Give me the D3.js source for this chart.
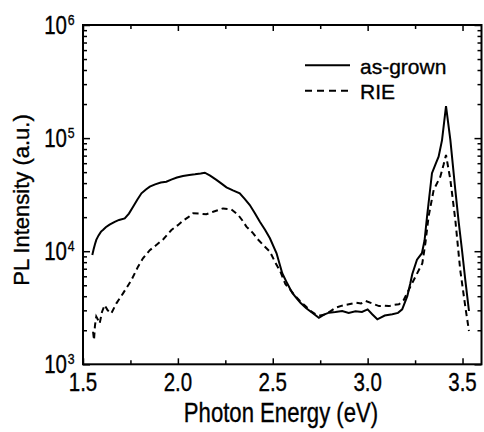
<!DOCTYPE html>
<html>
<head>
<meta charset="utf-8">
<script src="https://cdn.jsdelivr.net/npm/d3@7"></script>
<style>
  body { margin: 0; background: #fff; }
  .tick line { stroke: #000; stroke-width: 1.5; }
  .domain { display: none; }
  text { font-family: 'Liberation Sans', Arial, sans-serif; fill: #000; stroke: #000; stroke-width: 0.35px; }
</style>
</head>
<body>
<div id="chart"></div>
<script>
// PL spectra (photon energy in eV, intensity in a.u.)
const asGrownE = [1.549, 1.556, 1.563, 1.570, 1.582, 1.595, 1.605, 1.620, 1.640, 1.667, 1.690, 1.720, 1.742, 1.764, 1.786, 1.808, 1.830, 1.852, 1.880, 1.910, 1.939, 1.965, 1.995, 2.027, 2.060, 2.090, 2.120, 2.142, 2.170, 2.203, 2.230, 2.256, 2.290, 2.326, 2.352, 2.379, 2.405, 2.432, 2.460, 2.485, 2.520, 2.550, 2.576, 2.602, 2.625, 2.646, 2.675, 2.708, 2.743, 2.770, 2.796, 2.830, 2.866, 2.900, 2.936, 2.970, 3.000, 3.024, 3.051, 3.090, 3.130, 3.160, 3.182, 3.209, 3.225, 3.235, 3.260, 3.286, 3.300, 3.313, 3.339, 3.360, 3.374, 3.392, 3.413, 3.436, 3.462, 3.480, 3.497, 3.515, 3.534];
const asGrownI = [9250, 10400, 11500, 12600, 13800, 14900, 15400, 16300, 17200, 18200, 18900, 19500, 21500, 24700, 28500, 32500, 35000, 37200, 39000, 40500, 41100, 43000, 44800, 46200, 47200, 47800, 48600, 49400, 46500, 42700, 39600, 36700, 34500, 32500, 29000, 25600, 21800, 18200, 15400, 13000, 9580, 6380, 5200, 4300, 3850, 3500, 3150, 2860, 2580, 2750, 2860, 2900, 2960, 2850, 2950, 2900, 3060, 2770, 2500, 2700, 2770, 2850, 3060, 4000, 5200, 6250, 8400, 9600, 12500, 20200, 48900, 60000, 68600, 96000, 192000, 96000, 34800, 18000, 10300, 5500, 2960];

const rieE = [1.553, 1.558, 1.563, 1.570, 1.580, 1.588, 1.600, 1.614, 1.630, 1.649, 1.676, 1.711, 1.735, 1.755, 1.790, 1.816, 1.852, 1.885, 1.922, 1.966, 2.000, 2.027, 2.055, 2.080, 2.115, 2.150, 2.186, 2.210, 2.238, 2.282, 2.318, 2.340, 2.361, 2.397, 2.420, 2.444, 2.485, 2.514, 2.540, 2.567, 2.595, 2.620, 2.645, 2.672, 2.700, 2.725, 2.750, 2.778, 2.805, 2.831, 2.865, 2.901, 2.940, 2.965, 2.989, 3.025, 3.060, 3.090, 3.112, 3.140, 3.165, 3.190, 3.218, 3.253, 3.288, 3.305, 3.321, 3.348, 3.383, 3.400, 3.413, 3.436, 3.462, 3.488, 3.515, 3.534];
const rieI = [1940, 1640, 2200, 2640, 2450, 2300, 2900, 3340, 3000, 2820, 3460, 4240, 4900, 5560, 7300, 8650, 10200, 11300, 12700, 15400, 17000, 18600, 20000, 21600, 21500, 21200, 22300, 23000, 23900, 23400, 20900, 18700, 16500, 14400, 12800, 11600, 9900, 7900, 6600, 5100, 4500, 4000, 3600, 3270, 2950, 2770, 2700, 2770, 2950, 3160, 3300, 3390, 3500, 3450, 3630, 3450, 3270, 3300, 3270, 3350, 3390, 3700, 4600, 6000, 7800, 12000, 20200, 34800, 45600, 58000, 71000, 42700, 18900, 6800, 3200, 1970];

const xMajor = [1.5, 2.0, 2.5, 3.0, 3.5];
const xMinor = [1.75, 2.25, 2.75, 3.25];
const yMajor = [1e3, 1e4, 1e5, 1e6];
const seriesNames = ["as-grown", "RIE"];

const width = 484;
const height = 432;
const plotL = 83, plotR = 481.5, plotT = 25, plotB = 364.3;
const squeeze = 0.82; // the scanned lettering is tall and narrow

const svg = d3.select("#chart")
  .append("svg")
  .attr("width", width)
  .attr("height", height);

const x = d3.scaleLinear().domain([1.5, 3.6]).range([plotL, plotR]);
const y = d3.scaleLog().domain([1e3, 1e6]).range([plotB, plotT]);

const yMinor = y.ticks().filter(v => !yMajor.includes(v));

// ticks point inward on all four sides
function addAxis(axis, tx, ty) {
  svg.append("g").attr("transform", `translate(${tx},${ty})`).call(axis);
}
addAxis(d3.axisBottom(x).tickValues(xMajor).tickSize(-6).tickFormat(""), 0, plotB);
addAxis(d3.axisBottom(x).tickValues(xMinor).tickSize(-4).tickFormat(""), 0, plotB);
addAxis(d3.axisTop(x).tickValues(xMajor).tickSize(-6).tickFormat(""), 0, plotT);
addAxis(d3.axisTop(x).tickValues(xMinor).tickSize(-4).tickFormat(""), 0, plotT);
addAxis(d3.axisLeft(y).tickValues(yMajor).tickSize(-7).tickFormat(""), plotL, 0);
addAxis(d3.axisLeft(y).tickValues(yMinor).tickSize(-4).tickFormat(""), plotL, 0);
addAxis(d3.axisRight(y).tickValues(yMajor).tickSize(-7).tickFormat(""), plotR, 0);
addAxis(d3.axisRight(y).tickValues(yMinor).tickSize(-4).tickFormat(""), plotR, 0);

// frame
svg.append("rect")
  .attr("x", plotL).attr("y", plotT)
  .attr("width", plotR - plotL).attr("height", plotB - plotT)
  .attr("fill", "none").attr("stroke", "#000").attr("stroke-width", 2);

// x tick labels
svg.selectAll(".xlab")
  .data(xMajor)
  .enter().append("text")
  .attr("transform", d => `translate(${x(d)},${plotB + 27}) scale(${squeeze},1)`)
  .attr("text-anchor", "middle")
  .style("font-size", "25px")
  .text(d => d.toFixed(1));

// y tick labels 10^n
const ylab = svg.selectAll(".ylab")
  .data(yMajor)
  .enter().append("text")
  .attr("transform", d => `translate(67,${y(d) + 9}) scale(${squeeze},1)`)
  .style("font-size", "25px");
ylab.append("tspan")
  .attr("x", 0).attr("text-anchor", "end")
  .text("10");
ylab.append("tspan")
  .attr("x", 1).attr("dy", -9)
  .style("font-size", "15px")
  .text(d => Math.round(Math.log10(d)));

// axis titles
svg.append("text")
  .attr("transform", `translate(281,422) scale(${squeeze},1)`)
  .attr("text-anchor", "middle")
  .style("font-size", "27px")
  .text("Photon Energy (eV)");

svg.append("text")
  .attr("transform", "translate(28.5,200) rotate(-90)")
  .attr("text-anchor", "middle")
  .style("font-size", "22px")
  .text("PL Intensity (a.u.)");

// curves
const line = d3.line()
  .x(d => x(d[0]))
  .y(d => y(d[1]));

svg.append("path")
  .datum(asGrownE.map((e, i) => [e, asGrownI[i]]))
  .attr("d", line)
  .attr("fill", "none")
  .attr("stroke", "#000")
  .attr("stroke-width", 2);

svg.append("path")
  .datum(rieE.map((e, i) => [e, rieI[i]]))
  .attr("d", line)
  .attr("fill", "none")
  .attr("stroke", "#000")
  .attr("stroke-width", 2)
  .attr("stroke-dasharray", "6,4");

// legend
const legend = svg.append("g");
seriesNames.forEach((name, i) => {
  const ly = 65.3 + i * 25.4;
  legend.append("line")
    .attr("x1", 305).attr("x2", 350)
    .attr("y1", ly).attr("y2", ly)
    .attr("stroke", "#000")
    .attr("stroke-width", 2)
    .attr("stroke-dasharray", i === 0 ? null : "7,5");
  legend.append("text")
    .attr("x", 360).attr("y", ly + 8.5)
    .style("font-size", "21px")
    .text(name);
});
</script>
</body>
</html>
